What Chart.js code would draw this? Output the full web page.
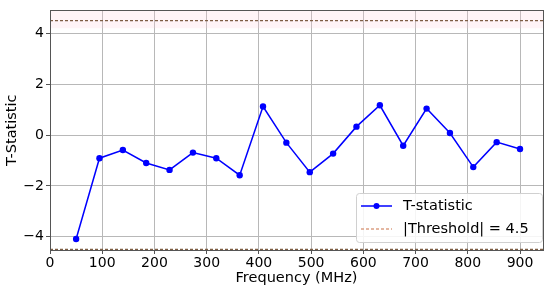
<!DOCTYPE html>
<html lang="en">
  <head>
    <meta charset="UTF-8" />
    <title>T-Statistic vs Frequency</title>
    <script src="https://cdn.jsdelivr.net/npm/chart.js"></script>
    <style>
      html, body { margin: 0; padding: 0; background: #fff; }
      #wrap { width: 550px; height: 291px; }
    </style>
  </head>
  <body>
    <div id="wrap"><canvas id="tChart" width="550" height="291"></canvas></div>

    <script>
      // values
      const frequencies = [50, 94.7, 139.5, 184.2, 228.9, 273.7, 318.4, 363.2, 407.9, 452.6,
                           497.4, 542.1, 586.8, 631.6, 676.3, 721.1, 765.8, 810.5, 855.3, 900];
      const tValues = [-4.09, -0.91, -0.59, -1.10, -1.37, -0.69, -0.91, -1.58, 1.12, -0.30,
                       -1.46, -0.73, 0.33, 1.17, -0.42, 1.04, 0.08, -1.26, -0.28, -0.55];
      const threshold = 4.5;
      const xTicks = [0, 100, 200, 300, 400, 500, 600, 700, 800, 900];
      const yTicks = [-4, -2, 0, 2, 4];
      const xRange = [0, 944];
      const yRange = [-4.52, 4.9];

      const FONT = 'DejaVu Sans';
      const thrColor = '#7d5e44';

      const frame = {
        id: 'frame',
        beforeDatasetsDraw(chart) {
          const { ctx, chartArea: a, scales } = chart;
          // faint band above the threshold
          const yTop = scales.y.getPixelForValue(yRange[1]);
          const yBand = scales.y.getPixelForValue(4.2);
          ctx.save();
          ctx.fillStyle = 'rgba(255, 205, 220, 0.22)';
          ctx.fillRect(a.left, yTop, a.right - a.left, yBand - yTop);
          ctx.restore();
        },
        afterDatasetsDraw(chart) {
          const { ctx, chartArea: a } = chart;
          ctx.save();
          ctx.strokeStyle = '#555';
          ctx.lineWidth = 1;
          ctx.strokeRect(Math.round(a.left) + 0.5, Math.round(a.top) + 0.5,
                         Math.round(a.right - a.left), Math.round(a.bottom - a.top));

          // legend, lower right inside the plot
          const bx = 356, by = 193, bw = 186, bh = 49;
          ctx.fillStyle = 'rgba(255,255,255,0.85)';
          ctx.strokeStyle = '#d0d0d0';
          ctx.beginPath();
          ctx.roundRect(bx + 0.5, by + 0.5, bw, bh, 3);
          ctx.fill();
          ctx.stroke();

          ctx.font = '14.5px "' + FONT + '"';
          ctx.textBaseline = 'middle';

          ctx.strokeStyle = 'blue';
          ctx.lineWidth = 1.5;
          ctx.beginPath();
          ctx.moveTo(361, 206);
          ctx.lineTo(392, 206);
          ctx.stroke();
          ctx.fillStyle = 'blue';
          ctx.beginPath();
          ctx.arc(376.5, 206, 3, 0, Math.PI * 2);
          ctx.fill();
          ctx.fillStyle = '#000';
          ctx.fillText('T-statistic', 403, 206);

          ctx.strokeStyle = '#dca084';
          ctx.setLineDash([3, 2]);
          ctx.beginPath();
          ctx.moveTo(361, 229);
          ctx.lineTo(392, 229);
          ctx.stroke();
          ctx.setLineDash([]);
          ctx.fillText('|Threshold| = ' + threshold, 403, 229);
          ctx.restore();
        }
      };

      const fmt = (v) => String(v).replace('-', '\u2212');

      const ctx = document.getElementById('tChart').getContext('2d');
      const tChart = new Chart(ctx, {
        type: 'line',
        data: {
          datasets: [
            {
              label: 'T-statistic',
              data: frequencies.map((f, i) => ({ x: f, y: tValues[i] })),
              borderColor: 'blue',
              backgroundColor: 'blue',
              borderWidth: 1.5,
              pointRadius: 3.2,
              pointBorderWidth: 0,
              tension: 0,
              fill: false,
            },
            {
              label: '|Threshold| = 4.5',
              data: [{ x: xRange[0], y: threshold }, { x: xRange[1], y: threshold }],
              borderColor: thrColor,
              borderWidth: 1.3,
              borderDash: [3, 2],
              pointRadius: 0,
              fill: false,
            },
            {
              label: '-threshold',
              data: [{ x: xRange[0], y: -threshold }, { x: xRange[1], y: -threshold }],
              borderColor: thrColor,
              borderWidth: 1.3,
              borderDash: [3, 2],
              pointRadius: 0,
              fill: false,
            },
          ],
        },
        options: {
          responsive: false,
          animation: false,
          layout: { padding: { top: 5, right: 7, left: 0, bottom: 0 } },
          plugins: {
            legend: { display: false },
            tooltip: { enabled: false },
          },
          scales: {
            x: {
              type: 'linear',
              min: xRange[0],
              max: xRange[1],
              ticks: { color: '#000', font: { family: FONT, size: 14 }, padding: 1, maxRotation: 0, callback: fmt },
              afterBuildTicks: (s) => { s.ticks = xTicks.map((v) => ({ value: v })); },
              afterFit: (s) => { s.height = 41; },
              grid: { color: '#b8b8b8', lineWidth: 1, tickLength: 4, tickColor: '#555' },
              border: { color: '#555' },
              title: { display: true, text: 'Frequency (MHz)', color: '#000', font: { family: FONT, size: 14.5 }, padding: { top: 0 } },
            },
            y: {
              min: yRange[0],
              max: yRange[1],
              ticks: { color: '#000', font: { family: FONT, size: 14 }, padding: 2, callback: fmt },
              afterBuildTicks: (s) => { s.ticks = yTicks.map((v) => ({ value: v })); },
              afterFit: (s) => { s.width = 50; },
              grid: { color: '#b8b8b8', lineWidth: 1, tickLength: 4, tickColor: '#555' },
              border: { color: '#555' },
              title: { display: true, text: 'T-Statistic', color: '#000', font: { family: FONT, size: 14.5 }, padding: { bottom: 0 } },
            },
          },
        },
        plugins: [frame],
      });
    </script>
  </body>
</html>
